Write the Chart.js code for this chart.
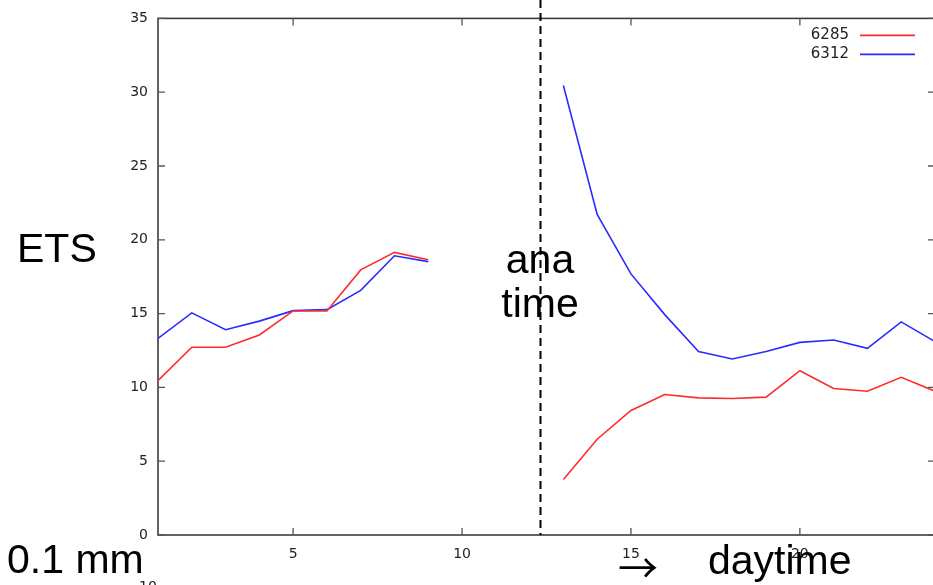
<!DOCTYPE html>
<html>
<head>
<meta charset="utf-8">
<script src="https://cdn.jsdelivr.net/npm/chart.js@4"></script>
<style>
  html, body { margin: 0; padding: 0; background: #fff; overflow: hidden; }
  #wrap { position: relative; width: 940px; height: 585px; }
  #wrap canvas { position: absolute; left: 0; top: 0; }
  .note {
    position: absolute;
    font-family: "Liberation Sans", Arial, sans-serif;
    font-size: 41px;
    line-height: 41px;
    color: #000;
    white-space: nowrap;
  }
  .arrow {
    position: absolute;
    font-family: "Noto Sans CJK JP", "DejaVu Sans", sans-serif;
    font-size: 40px;
    line-height: 40px;
    color: #000;
  }
  .small {
    position: absolute;
    font-family: "DejaVu Sans", sans-serif;
    font-size: 14px;
    line-height: 14px;
    color: #222;
  }
</style>
</head>
<body>
<div id="wrap">
  <canvas id="c" width="940" height="585"></canvas>
  <div class="note" style="left:17px;top:228px">ETS</div>
  <div class="note" style="left:440px;top:239px;width:200px;text-align:center">ana</div>
  <div class="note" style="left:440px;top:283px;width:200px;text-align:center">time</div>
  <div class="note" style="left:7px;top:539px">0.1 mm</div>
  <div class="arrow" style="left:618px;top:546px">&rarr;</div>
  <div class="note" style="left:708px;top:540px">daytime</div>
  <div class="small" style="left:139px;top:579px">10</div>
</div>
<script>
// forecast day index along the x axis
const days = [1, 2, 3, 4, 5, 6, 7, 8, 9, 10, 11, 12, 13, 14, 15, 16, 17, 18, 19, 20, 21, 22, 23, 24];

// ETS per day for the two runs (no values between day 10 and 12)
const ets6285 = [10.46, 12.72, 12.72, 13.55, 15.18, 15.18, 17.96, 19.15, 18.65, null, null, null,
                 3.76, 6.49, 8.44, 9.52, 9.29, 9.25, 9.34, 11.13, 9.92, 9.74, 10.68, 9.74];
const ets6312 = [13.32, 15.05, 13.91, 14.49, 15.20, 15.27, 16.57, 18.92, 18.52, null, null, null,
                 30.45, 21.72, 17.69, 14.93, 12.43, 11.93, 12.43, 13.05, 13.21, 12.65, 14.44, 13.10];

const seriesLabels = ['6285', '6312'];
const seriesColors = ['#ff2b2b', '#2b2bff'];

const xTicks = [5, 10, 15, 20];
const yTicks = [0, 5, 10, 15, 20, 25, 30, 35];

// position of the analysis-time marker on the day axis
const analysisTime = 12.3;

const tickFont = { family: '"DejaVu Sans", sans-serif', size: 14 };
const frameColor = '#3c3c3c';

const framePlugin = {
  id: 'frame',
  beforeDatasetsDraw(chart) {
    const { ctx, chartArea: a, scales } = chart;
    ctx.save();
    ctx.strokeStyle = frameColor;
    ctx.lineWidth = 1.6;
    ctx.strokeRect(a.left, a.top, a.right - a.left, a.bottom - a.top);
    ctx.lineWidth = 1.3;
    ctx.strokeStyle = '#555';
    ctx.beginPath();
    yTicks.forEach(v => {
      const y = scales.y.getPixelForValue(v);
      ctx.moveTo(a.left, y); ctx.lineTo(a.left + 7, y);
      ctx.moveTo(a.right, y); ctx.lineTo(a.right - 7, y);
    });
    xTicks.forEach(v => {
      const x = scales.x.getPixelForValue(v);
      ctx.moveTo(x, a.bottom); ctx.lineTo(x, a.bottom - 7);
      ctx.moveTo(x, a.top); ctx.lineTo(x, a.top + 7);
    });
    ctx.stroke();
    ctx.restore();
  },
  afterDatasetsDraw(chart) {
    const { ctx, chartArea: a, scales } = chart;
    ctx.save();
    // analysis-time marker
    const xm = Math.round(scales.x.getPixelForValue(analysisTime)) + 0.5;
    ctx.strokeStyle = '#000';
    ctx.lineWidth = 2;
    ctx.setLineDash([8, 5]);
    ctx.beginPath();
    ctx.moveTo(xm, 0);
    ctx.lineTo(xm, a.bottom);
    ctx.stroke();
    ctx.setLineDash([]);
    // key
    ctx.font = '15px "DejaVu Sans", sans-serif';
    ctx.textAlign = 'right';
    ctx.textBaseline = 'middle';
    chart.data.datasets.forEach((ds, i) => {
      const y = a.top + 17 + i * 19;
      ctx.fillStyle = '#222';
      ctx.fillText(ds.label, a.right - 86, y);
      ctx.strokeStyle = ds.borderColor;
      ctx.lineWidth = 1.6;
      ctx.beginPath();
      ctx.moveTo(a.right - 75, y);
      ctx.lineTo(a.right - 20, y);
      ctx.stroke();
    });
    ctx.restore();
  }
};

const makeData = vals => days.map((d, i) => ({ x: d, y: vals[i] }));

new Chart(document.getElementById('c'), {
  type: 'line',
  data: {
    datasets: [
      { label: seriesLabels[0], data: makeData(ets6285), borderColor: seriesColors[0],
        borderWidth: 1.6, pointRadius: 0, tension: 0, spanGaps: false },
      { label: seriesLabels[1], data: makeData(ets6312), borderColor: seriesColors[1],
        borderWidth: 1.6, pointRadius: 0, tension: 0, spanGaps: false }
    ]
  },
  options: {
    responsive: false,
    animation: false,
    layout: { padding: { top: 14, right: 5, left: 0, bottom: 0 } },
    plugins: { legend: { display: false }, tooltip: { enabled: false } },
    scales: {
      x: {
        type: 'linear', min: 1, max: 24, position: 'bottom',
        grid: { display: false, drawTicks: false },
        border: { display: false },
        ticks: { font: tickFont, color: '#222', padding: 11, maxRotation: 0, autoSkip: false },
        afterBuildTicks: s => { s.ticks = xTicks.map(v => ({ value: v })); },
        afterFit: s => { s.height = 50; }
      },
      y: {
        min: 0, max: 35,
        grid: { display: false, drawTicks: false },
        border: { display: false },
        ticks: { font: tickFont, color: '#222', padding: 10, stepSize: 5 },
        afterBuildTicks: s => { s.ticks = yTicks.map(v => ({ value: v })); },
        afterFit: s => { s.width = 158; }
      }
    }
  },
  plugins: [framePlugin]
});
</script>
</body>
</html>
